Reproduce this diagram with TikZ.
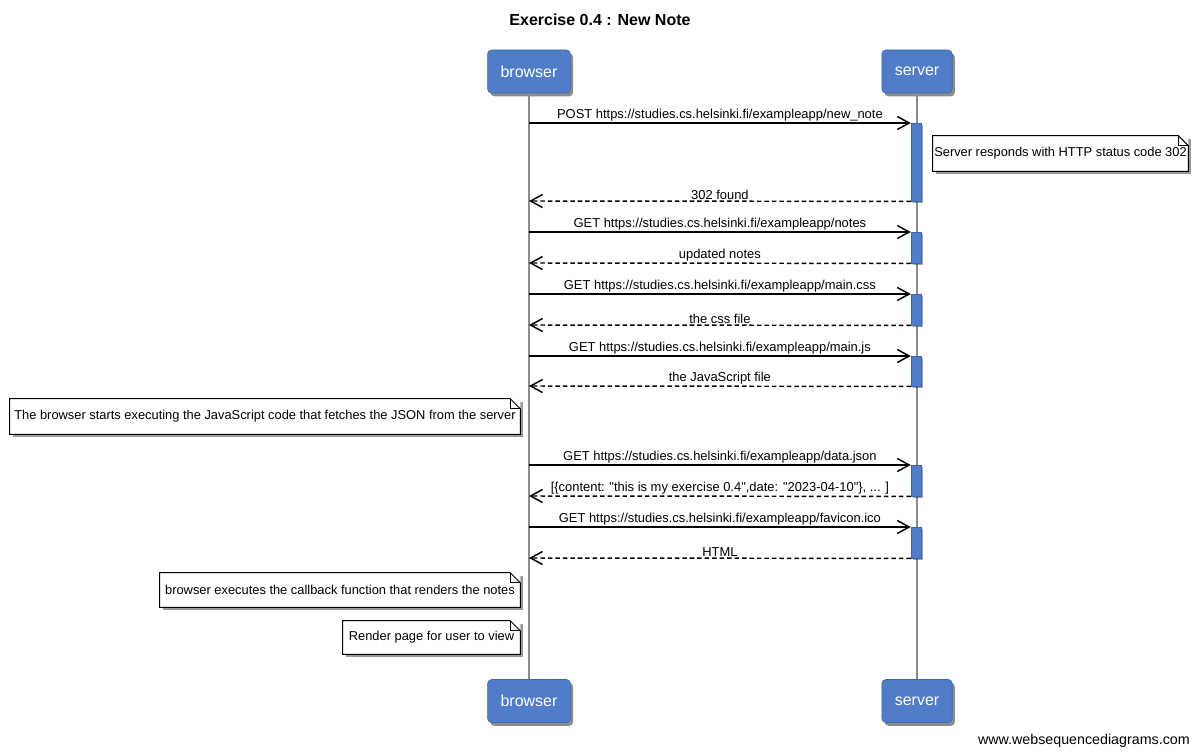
\documentclass[tikz,border=0pt]{standalone}
\usepackage{fontspec}
\setmainfont{Liberation Sans}
\usetikzlibrary{arrows.meta,shadows}
\definecolor{wsdblue}{RGB}{80,124,200}
\definecolor{wsdedge}{RGB}{62,102,175}
\definecolor{lifegray}{RGB}{140,140,140}

% folded-corner outline drawn over a note node
\newcommand\foldnote[1]{%
  \fill[white] ([xshift=-7.5pt]#1.north east) -- (#1.north east) -- ([yshift=-7.5pt]#1.north east) -- cycle;
  \draw[line width=0.75pt] (#1.south west) -- (#1.south east) -- ([yshift=-7.5pt]#1.north east)
    -- ([xshift=-7.5pt]#1.north east) -- (#1.north west) -- cycle;
  \draw[line width=0.6pt] ([xshift=-7.5pt]#1.north east) -- ([xshift=-7.5pt,yshift=-7.5pt]#1.north east)
    -- ([yshift=-7.5pt]#1.north east);
}

\begin{document}
\begin{tikzpicture}[x=0.75pt,y=-0.75pt,
  actor/.style={rectangle, rounded corners=3pt, fill=wsdblue, draw=wsdedge, line width=0.4pt,
    text=white, font=\fontsize{12}{14}\selectfont, inner xsep=9.75pt, minimum height=32.25pt,
    drop shadow={shadow xshift=2pt, shadow yshift=-2.5pt, opacity=0.45, fill=black}},
  lifeline/.style={draw=lifegray, line width=1.1pt},
  actbar/.style={rectangle, anchor=north, fill=wsdblue, draw=wsdedge, line width=0.3pt,
    minimum width=7.5pt, inner sep=0pt,
    drop shadow={shadow xshift=1.2pt, shadow yshift=-1.5pt, opacity=0.35, fill=black}},
  msg/.style={line width=1.1pt, -{Straight Barb[length=9pt,width=9.75pt,line width=1.1pt]}},
  ret/.style={msg, dash pattern=on 3.4pt off 2.2pt},
  lbl/.style={midway, above, inner sep=0.8pt, font=\fontsize{9.7}{11}\selectfont},
  note/.style={rectangle, fill=white, inner sep=0pt, font=\fontsize{9.65}{11}\selectfont,
    drop shadow={shadow xshift=2pt, shadow yshift=-2.5pt, opacity=0.4, fill=black}}
]
\useasboundingbox (0,0) rectangle (1200,756);
\fill[white] (0,0) rectangle (1200,756);

% title
\node[font=\bfseries\fontsize{12}{14}\selectfont] (title) at (600,20) {Exercise 0.4 : New Note};

% participants
\node[actor] (btop) at (529,71.5) {browser};
\node[actor] (stop) at (917,71.5) {server};
\node[actor] (bbot) at (529,701) {browser};
\node[actor] (sbot) at (917,701) {server};

% lifelines
\draw[lifeline] (btop.south) -- (bbot.north);
\draw[lifeline] (stop.south) -- (sbot.north);

% activation bars on the server
\node[actbar, minimum height=58.5pt] (act1) at (916,123) {};
\node[actbar, minimum height=23.25pt] (act2) at (916,232) {};
\node[actbar, minimum height=23.25pt] (act3) at (916,294) {};
\node[actbar, minimum height=22.5pt] (act4) at (916,356) {};
\node[actbar, minimum height=23.25pt] (act5) at (916,465) {};
\node[actbar, minimum height=23.25pt] (act6) at (916,527) {};

% points on the browser lifeline
\coordinate (b1) at (529,123);
\coordinate (b2) at (529,201);
\coordinate (b3) at (529,232);
\coordinate (b4) at (529,263);
\coordinate (b5) at (529,294);
\coordinate (b6) at (529,325);
\coordinate (b7) at (529,356);
\coordinate (b8) at (529,386);
\coordinate (b9) at (529,465);
\coordinate (b10) at (529,496);
\coordinate (b11) at (529,527);
\coordinate (b12) at (529,558);

% messages
\draw[msg] (b1) -- (act1.north west) node[lbl] {POST https://studies.cs.helsinki.fi/exampleapp/new\_note};
\draw[ret] (act1.south west) -- (b2) node[lbl] {302 found};
\draw[msg] (b3) -- (act2.north west) node[lbl] {GET https://studies.cs.helsinki.fi/exampleapp/notes};
\draw[ret] (act2.south west) -- (b4) node[lbl] {updated notes};
\draw[msg] (b5) -- (act3.north west) node[lbl] {GET https://studies.cs.helsinki.fi/exampleapp/main.css};
\draw[ret] (act3.south west) -- (b6) node[lbl] {the css file};
\draw[msg] (b7) -- (act4.north west) node[lbl] {GET https://studies.cs.helsinki.fi/exampleapp/main.js};
\draw[ret] (act4.south west) -- (b8) node[lbl] {the JavaScript file};
\draw[msg] (b9) -- (act5.north west) node[lbl] {GET https://studies.cs.helsinki.fi/exampleapp/data.json};
\draw[ret] (act5.south west) -- (b10) node[lbl] {[\{content: \textquotedbl this is my exercise 0.4\textquotedbl,date: \textquotedbl 2023-04-10\textquotedbl\}, ... ]};
\draw[msg] (b11) -- (act6.north west) node[lbl] {GET https://studies.cs.helsinki.fi/exampleapp/favicon.ico};
\draw[ret] (act6.south west) -- (b12) node[lbl] {HTML};

% notes
\node[note, minimum width=191.25pt, minimum height=26.25pt] (n1) at (1060.5,153.5) {Server responds with HTTP status code 302};
\foldnote{n1}
\node[note, minimum width=382.5pt, minimum height=26.25pt] (n2) at (265,416.5) {The browser starts executing the JavaScript code that fetches the JSON from the server};
\foldnote{n2}
\node[note, minimum width=270pt, minimum height=25.5pt] (n3) at (340,590) {browser executes the callback function that renders the notes};
\foldnote{n3}
\node[note, minimum width=132.75pt, minimum height=24.75pt] (n4) at (431.5,637.5) {Render page for user to view};
\foldnote{n4}

% footer
\node[anchor=east, inner sep=0pt, font=\fontsize{10.7}{12}\selectfont] (wsd) at (1190,741) {www.websequencediagrams.com};
\end{tikzpicture}
\end{document}
